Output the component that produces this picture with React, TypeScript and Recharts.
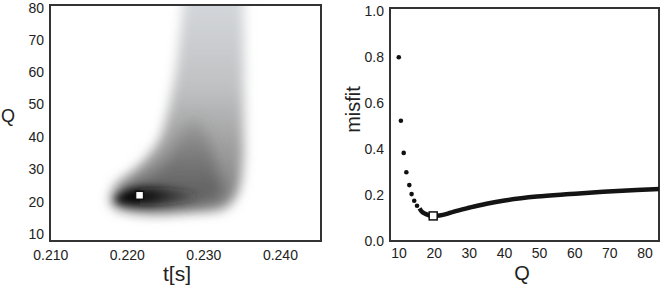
import { Area, ComposedChart, Line, ReferenceArea, Scatter, XAxis, YAxis } from "recharts";

// left panel: t[s] vs Q density
const tDomain = [0.2099, 0.2453];
const qDomain = [7.9, 80.7];
const tTicks = [0.21, 0.22, 0.23, 0.24];
const qTicks = [10, 20, 30, 40, 50, 60, 70, 80];

// density levels, each row is [t, Q low, Q high]
const bandOuter: [number, number, number][] = [
  [0.2178, 19.5, 21.8],
  [0.2185, 18, 25],
  [0.22, 17, 28],
  [0.2215, 16.5, 31],
  [0.223, 16.3, 35],
  [0.2245, 16.3, 41],
  [0.2255, 16.4, 50],
  [0.2265, 16.6, 63],
  [0.2276, 16.8, 84],
  [0.23, 17, 84],
  [0.232, 17.5, 84],
  [0.2335, 19.5, 84],
  [0.2347, 25, 84],
  [0.2352, 35, 84],
];
const bandMid: [number, number, number][] = [
  [0.2195, 19.5, 23],
  [0.2215, 18.5, 26],
  [0.224, 18, 30],
  [0.226, 18.2, 36],
  [0.2275, 18.5, 44],
  [0.229, 19, 46],
  [0.2305, 19.8, 40],
  [0.2318, 21, 30],
  [0.2325, 22.5, 24],
];
const bandCore: [number, number, number][] = [
  [0.2184, 20.2, 21.2],
  [0.2195, 19.2, 23],
  [0.2215, 18.8, 24.4],
  [0.224, 19, 24.4],
  [0.226, 19.4, 24],
  [0.2278, 20, 23.4],
  [0.229, 20.8, 22.4],
];
const bestLeft = [{ t: 0.2216, Q: 22 }];

// right panel: misfit vs Q
const qDomainRight = [7.4, 84];
const misfitDomain = [0, 1.013];
const qTicksRight = [10, 20, 30, 40, 50, 60, 70, 80];
const misfitTicks = [0, 0.2, 0.4, 0.6, 0.8, 1.0];
const sparseQ = [9.9, 10.5, 11.3, 12.05, 12.9, 13.55, 14.3, 15.1];
const sparseMisfit = [0.799, 0.523, 0.383, 0.299, 0.243, 0.204, 0.175, 0.153];
const curveQ = [15.8, 16.5, 17.5, 18.5, 19.7, 21.5, 23.6, 25.4, 30.3, 34.9, 39.6, 49.2, 58.7, 68.1, 77.6, 84];
const curveMisfit = [0.142, 0.127, 0.118, 0.112, 0.109, 0.111, 0.118, 0.127, 0.146, 0.162, 0.175, 0.193, 0.204, 0.214, 0.222, 0.226];
const bestRight = [{ Q: 19.7, misfit: 0.109 }];

const toBand = (rows: [number, number, number][]) => rows.map(([t, lo, hi]) => ({ t, band: [lo, hi] }));
const sparse = sparseQ.map((Q, i) => ({ Q, misfit: sparseMisfit[i] }));
const curve = curveQ.map((Q, i) => ({ Q, misfit: curveMisfit[i] }));

const font = "'Liberation Sans', Arial, sans-serif";
const tick = { fontSize: 14, fill: "#222", fontFamily: font };

const Square = (p: any) => (
  <rect x={p.cx - 4} y={p.cy - 4} width={8} height={8} fill="#fff" stroke="#111" strokeWidth={1.5} />
);
const Dot = (p: any) => <circle cx={p.cx} cy={p.cy} r={2.3} fill="#111" />;

const css = `
.blurOuter .recharts-area-area{filter:url(#fOuter)}
.blurMid .recharts-area-area{filter:url(#fMid)}
.blurCore .recharts-area-area{filter:url(#fCore)}
`;

export default function App() {
  return (
    <div style={{ position: "absolute", left: 0, top: 0, width: 661, height: 289, background: "#fff", fontFamily: font }}>
      <style>{css}</style>
      <div style={{ position: "absolute", left: 0, top: 0 }}>
        <ComposedChart width={330} height={289} margin={{ top: 5, right: 9, bottom: 0, left: 0 }}>
          <defs>
            <linearGradient id="gOuter" gradientUnits="userSpaceOnUse" x1="0" y1="5" x2="0" y2="241">
              <stop offset="0%" stopColor="#d3d6da" />
              <stop offset="35%" stopColor="#c0c1c3" />
              <stop offset="58%" stopColor="#a2a2a2" />
              <stop offset="78%" stopColor="#888" />
              <stop offset="100%" stopColor="#909090" />
            </linearGradient>
            <linearGradient id="gMid" gradientUnits="userSpaceOnUse" x1="0" y1="100" x2="0" y2="195">
              <stop offset="0%" stopColor="#555" stopOpacity={0} />
              <stop offset="100%" stopColor="#555" stopOpacity={0.75} />
            </linearGradient>
            <linearGradient id="gCore" gradientUnits="userSpaceOnUse" x1="115" y1="0" x2="195" y2="0">
              <stop offset="0%" stopColor="#000" stopOpacity={0.95} />
              <stop offset="45%" stopColor="#0a0a0a" stopOpacity={0.9} />
              <stop offset="100%" stopColor="#2a2a2a" stopOpacity={0.15} />
            </linearGradient>
            <filter id="fOuter" filterUnits="userSpaceOnUse" x="-50" y="-100" width="500" height="500">
              <feGaussianBlur stdDeviation="6" />
            </filter>
            <filter id="fMid" filterUnits="userSpaceOnUse" x="-50" y="-100" width="500" height="500">
              <feGaussianBlur stdDeviation="7" />
            </filter>
            <filter id="fCore" filterUnits="userSpaceOnUse" x="-50" y="-100" width="500" height="500">
              <feGaussianBlur stdDeviation="4.5" />
            </filter>
          </defs>
          <XAxis
            type="number"
            dataKey="t"
            domain={tDomain}
            allowDataOverflow
            ticks={tTicks}
            tickFormatter={(v: number) => v.toFixed(3)}
            axisLine={false}
            tickLine={false}
            tickSize={0}
            tickMargin={9}
            height={48}
            tick={tick}
          />
          <YAxis
            type="number"
            dataKey="Q"
            domain={qDomain}
            allowDataOverflow
            ticks={qTicks}
            axisLine={false}
            tickLine={false}
            tickSize={0}
            tickMargin={6}
            width={50}
            tick={tick}
          />
          <Area className="blurOuter" data={toBand(bandOuter)} dataKey="band" type="monotone" stroke="none" fill="url(#gOuter)" fillOpacity={1} isAnimationActive={false} />
          <Area className="blurMid" data={toBand(bandMid)} dataKey="band" type="monotone" stroke="none" fill="url(#gMid)" fillOpacity={1} isAnimationActive={false} />
          <Area className="blurCore" data={toBand(bandCore)} dataKey="band" type="monotone" stroke="none" fill="url(#gCore)" fillOpacity={1} isAnimationActive={false} />
          <Scatter data={bestLeft} dataKey="Q" shape={Square} isAnimationActive={false} />
          <ReferenceArea x1={tDomain[0]} x2={tDomain[1]} y1={qDomain[0]} y2={qDomain[1]} fill="none" fillOpacity={0} stroke="#333" strokeWidth={2} ifOverflow="visible" />
        </ComposedChart>
      </div>
      <div style={{ position: "absolute", left: 330, top: 0 }}>
        <ComposedChart width={331} height={289} margin={{ top: 8, right: 2, bottom: 0, left: 0 }}>
          <XAxis
            type="number"
            dataKey="Q"
            domain={qDomainRight}
            allowDataOverflow
            ticks={qTicksRight}
            axisLine={false}
            tickLine={false}
            tickSize={0}
            tickMargin={7}
            height={48}
            tick={tick}
          />
          <YAxis
            type="number"
            dataKey="misfit"
            domain={misfitDomain}
            allowDataOverflow
            ticks={misfitTicks}
            tickFormatter={(v: number) => v.toFixed(1)}
            axisLine={false}
            tickLine={false}
            tickSize={0}
            tickMargin={6}
            width={60}
            tick={tick}
          />
          <Line data={curve} dataKey="misfit" type="monotone" stroke="#141414" strokeWidth={4.5} dot={false} activeDot={false} isAnimationActive={false} />
          <Scatter data={sparse} dataKey="misfit" shape={Dot} isAnimationActive={false} />
          <Scatter data={bestRight} dataKey="misfit" shape={Square} isAnimationActive={false} />
          <ReferenceArea x1={qDomainRight[0]} x2={qDomainRight[1]} y1={misfitDomain[0]} y2={misfitDomain[1]} fill="none" fillOpacity={0} stroke="#333" strokeWidth={2} ifOverflow="visible" />
        </ComposedChart>
      </div>
      <div style={{ position: "absolute", left: 0, top: 106, width: 16, textAlign: "center", fontSize: 18, color: "#222" }}>Q</div>
      <div style={{ position: "absolute", left: 137, top: 262, width: 80, textAlign: "center", fontSize: 21, color: "#222" }}>t[s]</div>
      <div style={{ position: "absolute", left: 313, top: 98, width: 80, textAlign: "center", fontSize: 20, color: "#222", transform: "rotate(-90deg)" }}>misfit</div>
      <div style={{ position: "absolute", left: 482, top: 262, width: 80, textAlign: "center", fontSize: 20, color: "#222" }}>Q</div>
    </div>
  );
}
